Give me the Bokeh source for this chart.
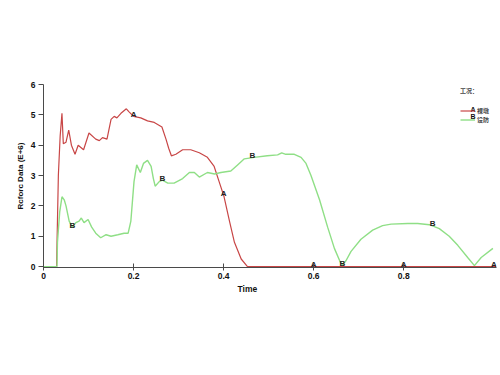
import numpy as np
from bokeh.plotting import figure
from bokeh.models import Range1d, FixedTicker, Label, Legend, LegendItem, Title
from bokeh.core.properties import value
from bokeh.embed import file_html
from bokeh.resources import INLINE

# Case A (裸墩)
a_t = [0, 0.029, 0.033, 0.037, 0.041, 0.044, 0.05, 0.056, 0.062, 0.07,
       0.077, 0.089, 0.101, 0.116, 0.124, 0.131, 0.141, 0.15, 0.157, 0.163,
       0.172, 0.184, 0.19, 0.2, 0.216, 0.231, 0.246, 0.263, 0.272, 0.278,
       0.284, 0.294, 0.309, 0.327, 0.346, 0.364, 0.379, 0.39, 0.401, 0.413,
       0.424, 0.439, 0.453, 1.005]
a_y = [0, 0, 3.0, 4.3, 5.05, 4.05, 4.1, 4.5, 4.0, 3.7,
       4.0, 3.85, 4.4, 4.2, 4.15, 4.25, 4.2, 4.85, 4.95, 4.9,
       5.05, 5.2, 5.1, 4.95, 4.9, 4.8, 4.75, 4.6, 4.2, 3.9,
       3.65, 3.7, 3.85, 3.85, 3.75, 3.6, 3.3, 2.8, 2.3, 1.5,
       0.8, 0.25, 0, 0]

# Case B (设防)
b_t = [0, 0.03, 0.031, 0.036, 0.041, 0.046, 0.05, 0.057, 0.064, 0.072,
       0.079, 0.084, 0.09, 0.099, 0.107, 0.116, 0.127, 0.139, 0.15, 0.165,
       0.179, 0.188, 0.194, 0.201, 0.207, 0.215, 0.222, 0.231, 0.239, 0.244,
       0.248, 0.257, 0.264, 0.276, 0.29, 0.309, 0.324, 0.335, 0.346, 0.364,
       0.38, 0.394, 0.416, 0.431, 0.446, 0.468, 0.497, 0.52, 0.529, 0.538,
       0.557, 0.572, 0.583, 0.594, 0.613, 0.631, 0.646, 0.659, 0.664, 0.672,
       0.683, 0.705, 0.731, 0.753, 0.772, 0.809, 0.831, 0.857, 0.879, 0.901,
       0.92, 0.942, 0.957, 0.972, 0.998]
b_y = [0, 0, 0.8, 1.8, 2.3, 2.2, 2.0, 1.5, 1.3, 1.45,
       1.5, 1.6, 1.45, 1.55, 1.3, 1.1, 0.95, 1.05, 1.0, 1.05,
       1.1, 1.1, 1.5, 2.8, 3.35, 3.1, 3.4, 3.5, 3.3, 2.9,
       2.65, 2.8, 2.85, 2.75, 2.75, 2.9, 3.1, 3.1, 2.95, 3.1,
       3.05, 3.1, 3.15, 3.35, 3.55, 3.6, 3.65, 3.68, 3.75, 3.7,
       3.7, 3.6, 3.4, 3.0, 2.2, 1.3, 0.6, 0.15, 0.05, 0.2,
       0.5, 0.9, 1.2, 1.35, 1.4, 1.42, 1.42, 1.38, 1.25, 1.0,
       0.7, 0.3, 0.03, 0.3, 0.6]

# curve symbol positions (time)
a_mark_t = [0.2, 0.4, 0.6, 0.8, 1.0]
b_mark_t = [0.064, 0.264, 0.464, 0.664, 0.864]

x_ticks = [0, 0.2, 0.4, 0.6, 0.8]
y_ticks = [0, 1, 2, 3, 4, 5, 6]

series_names = ["裸墩", "设防"]
series_letters = ["A", "B"]
legend_title = "工况："
x_title = "Time"
y_title = "Rcforc Data (E+6)"

RED = "#c84646"
GREEN = "#8fdf86"
AXIS = "#4a4a4a"
FONT = "Liberation Sans"
CJK = "Noto Sans CJK SC"

p = figure(width=500, height=370, x_range=Range1d(0, 1.006), y_range=Range1d(-0.03, 6),
           output_backend="svg", toolbar_location=None,
           min_border_left=43, min_border_right=4, min_border_top=84, min_border_bottom=103)
p.outline_line_color = None
p.xgrid.visible = False
p.ygrid.visible = False

rA = p.line(a_t, a_y, line_color=RED, line_width=1.2)
rB = p.line(b_t, b_y, line_color=GREEN, line_width=1.4)

p.text(a_mark_t, list(np.interp(a_mark_t, a_t, a_y)), text=["A"] * len(a_mark_t),
       text_font=value(FONT), text_font_style="bold", text_font_size="8px",
       text_color="#222222", text_align="center", text_baseline="middle", y_offset=-2)
p.text(b_mark_t, list(np.interp(b_mark_t, b_t, b_y)), text=["B"] * len(b_mark_t),
       text_font=value(FONT), text_font_style="bold", text_font_size="8px",
       text_color="#222222", text_align="center", text_baseline="middle", y_offset=-2)

for ax in (p.xaxis[0], p.yaxis[0]):
    ax.axis_line_color = AXIS
    ax.major_tick_line_color = AXIS
    ax.minor_tick_line_color = None
    ax.major_label_text_font = FONT
    ax.major_label_text_font_style = "bold"
    ax.major_label_text_font_size = "8.5px"
    ax.major_label_text_color = "#111111"
    ax.axis_line_width = 1
    ax.major_tick_line_width = 1

p.xaxis.ticker = FixedTicker(ticks=x_ticks)
p.xaxis.major_tick_in = 4
p.xaxis.major_tick_out = 3
p.xaxis.major_label_standoff = 2
p.xaxis.major_label_overrides = {0: "0"}

p.yaxis.ticker = FixedTicker(ticks=y_ticks)
p.yaxis.major_tick_in = 0
p.yaxis.major_tick_out = 5
p.yaxis.major_label_standoff = 3
p.yaxis.axis_label = y_title
p.yaxis.axis_label_text_font = FONT
p.yaxis.axis_label_text_font_style = "bold"
p.yaxis.axis_label_text_font_size = "8px"
p.yaxis.axis_label_text_color = "#111111"
p.yaxis.axis_label_standoff = 3

p.add_layout(Title(text=x_title, align="left", offset=194, standoff=0,
                   text_font=FONT, text_font_style="bold", text_font_size="8.5px",
                   text_color="#111111"), "below")

legend = Legend(items=[LegendItem(label=series_names[0], renderers=[rA]),
                       LegendItem(label=series_names[1], renderers=[rB])],
                title=legend_title, location=(417, 143))
legend.title_text_font = CJK
legend.title_text_font_style = "bold"
legend.title_text_font_size = "6px"
legend.title_standoff = 11
legend.label_text_font = CJK
legend.label_text_font_style = "bold"
legend.label_text_font_size = "6px"
legend.label_height = 7
legend.glyph_height = 7
legend.glyph_width = 15
legend.label_standoff = 2
legend.spacing = -1
legend.padding = 0
legend.margin = 0
legend.border_line_color = None
legend.background_fill_alpha = 0
p.add_layout(legend, "center")

for i, letter in enumerate(series_letters):
    p.add_layout(Label(x=0.954, y=5.17 - 0.24 * i, text=letter, text_font=FONT,
                       text_font_style="bold", text_font_size="7px", text_color="#111111",
                       text_align="center", text_baseline="middle"))

open("out.html", "w").write(file_html(p, INLINE))
